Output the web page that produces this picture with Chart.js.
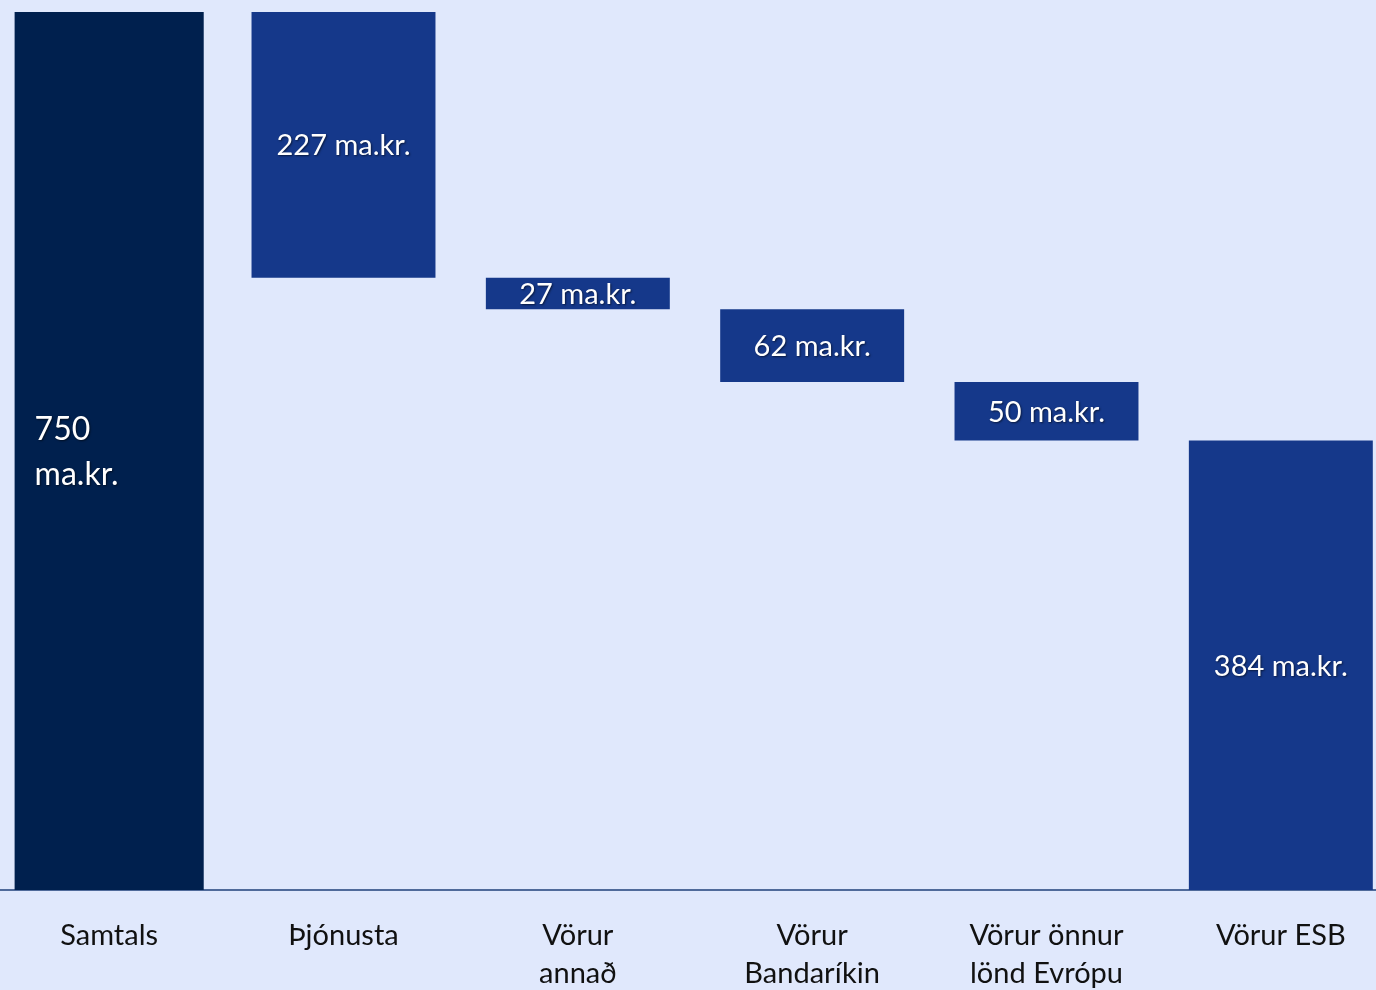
<!DOCTYPE html>
<html>
<head>
<meta charset="utf-8">
<script src="https://cdn.jsdelivr.net/npm/chart.js@4"></script>
<style>
  html, body { margin: 0; padding: 0; background: #e0e8fc; overflow: hidden; }
  #wrap { position: absolute; left: -8px; top: 0; width: 1406px; height: 1000px; }
</style>
</head>
<body>
<div id="wrap"><canvas id="myChart" width="1406" height="1000"></canvas></div>
<script>
// data
const categories = ['Samtals', 'Þjónusta', 'Vörur annað', 'Vörur Bandaríkin', 'Vörur önnur lönd Evrópu', 'Vörur ESB'];
const tickLabels = [['Samtals'], ['Þjónusta'], ['Vörur', 'annað'], ['Vörur', 'Bandaríkin'], ['Vörur önnur', 'lönd Evrópu'], ['Vörur ESB']];
const values = [750, 227, 27, 62, 50, 384];
const unit = 'ma.kr.';

const FONT = 'Lato, "Open Sans", sans-serif';

// build waterfall ranges from the total downwards
const totalData = [values[0], null, null, null, null, null];
const stepData = [null];
let level = values[0];
for (let i = 1; i < values.length; i++) {
    stepData.push([level - values[i], level]);
    level -= values[i];
}

// labels inside the bars
const barLabels = {
    id: 'barLabels',
    afterDatasetsDraw(chart) {
        const ctx = chart.ctx;
        ctx.save();
        ctx.fillStyle = '#ffffff';
        ctx.shadowColor = 'rgba(0,0,0,0.55)';
        ctx.shadowOffsetX = 1;
        ctx.shadowOffsetY = 1;
        ctx.shadowBlur = 2;
        ctx.textBaseline = 'middle';
        chart.data.datasets.forEach((ds, di) => {
            chart.getDatasetMeta(di).data.forEach((bar, i) => {
                if (ds.data[i] == null) return;
                const p = bar.getProps(['x', 'y', 'base', 'width'], true);
                const cy = (p.y + p.base) / 2;
                if (di === 0) {
                    ctx.font = '32px ' + FONT;
                    ctx.textAlign = 'left';
                    const lx = p.x - p.width / 2 + 20;
                    ctx.fillText(String(values[i]), lx, cy - 21);
                    ctx.fillText(unit, lx, cy + 24);
                } else {
                    ctx.font = '29px ' + FONT;
                    ctx.textAlign = 'center';
                    ctx.fillText(values[i] + ' ' + unit, p.x, cy + 1);
                }
            });
        });
        ctx.restore();
    }
};

const ctx = document.getElementById('myChart').getContext('2d');
const myChart = new Chart(ctx, {
    type: 'bar',
    data: {
        labels: tickLabels,
        datasets: [{
            label: categories[0],
            data: totalData,
            backgroundColor: '#00204e',
            barPercentage: 0.807,
            categoryPercentage: 1,
            grouped: false
        }, {
            label: 'Skipting',
            data: stepData,
            backgroundColor: '#15388a',
            barPercentage: 0.785,
            categoryPercentage: 1,
            grouped: false
        }]
    },
    options: {
        responsive: false,
        animation: false,
        layout: { padding: { top: 12, left: 0, right: 0, bottom: 0 } },
        plugins: {
            legend: { display: false },
            tooltip: { enabled: false }
        },
        scales: {
            x: {
                offset: true,
                grid: { display: false, drawTicks: false },
                border: { display: true, color: '#4f6a9a', width: 2 },
                ticks: {
                    color: '#111111',
                    padding: 27,
                    maxRotation: 0,
                    autoSkip: false,
                    font: { family: FONT, size: 29, lineHeight: 1.3 }
                },
                afterFit(scale) { scale.height = 110; }
            },
            y: {
                display: false,
                min: 0,
                max: 750
            }
        }
    },
    plugins: [barLabels]
});
</script>
</body>
</html>
